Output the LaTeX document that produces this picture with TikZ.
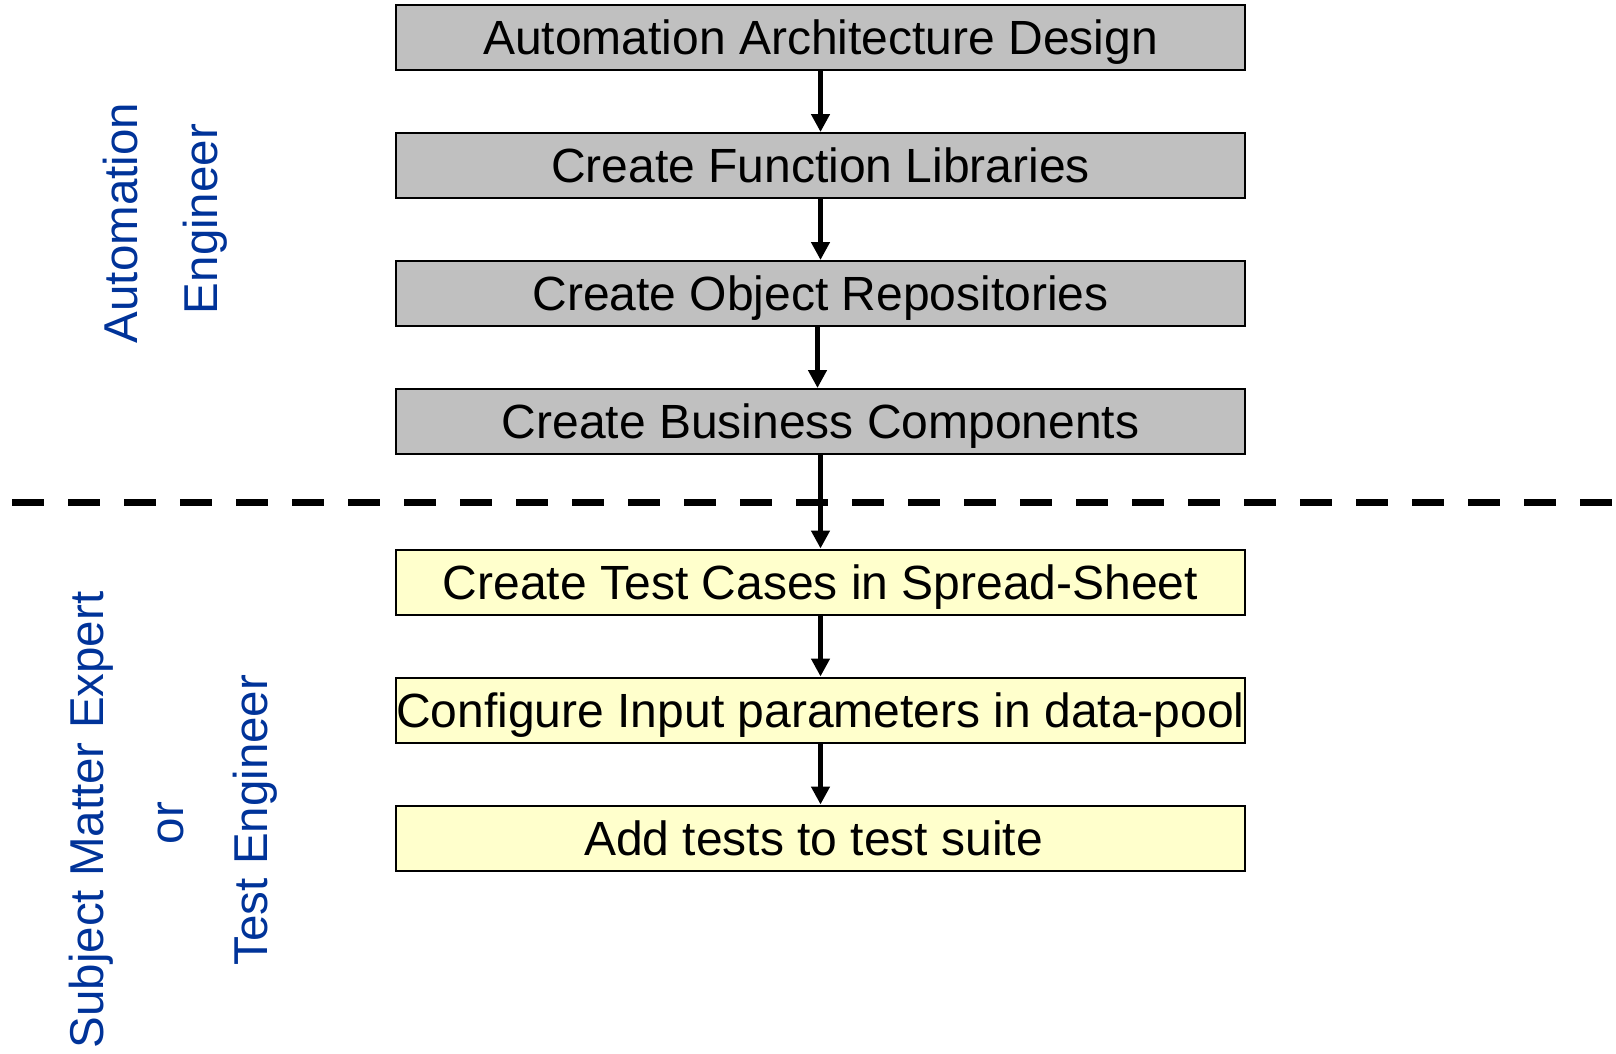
\documentclass[tikz,border=0pt]{standalone}
\usepackage{fontspec}
\setmainfont{Liberation Sans}
\usetikzlibrary{arrows.meta}
\definecolor{boxgray}{RGB}{192,192,192}
\definecolor{boxyellow}{RGB}{255,255,204}
\definecolor{roleblue}{RGB}{0,51,153}
\begin{document}
\begin{tikzpicture}[x=1pt,y=-1pt,
  stepbox/.style={draw=black, line width=2pt, minimum width=849pt, minimum height=65pt,
    inner sep=0pt, text height=34pt, text depth=0pt,
    font=\fontsize{48}{57}\selectfont},
  graybox/.style={stepbox, fill=boxgray},
  yellowbox/.style={stepbox, fill=boxyellow},
  flow/.style={line width=4.5pt, -{Triangle[length=18pt,width=18pt]}},
  role/.style={rotate=90, anchor=base, inner sep=0pt, text=roleblue,
    font=\fontsize{47.5}{57}\selectfont}]
\useasboundingbox (0,0) rectangle (1616,1053);

\node[graybox] (b1) at (820.5,37.5) {Automation Architecture Design};
\node[graybox] (b2) at (820.5,165.5) {Create Function Libraries};
\node[graybox] (b3) at (820.5,293.5) {Create Object Repositories};
\node[graybox] (b4) at (820.5,421.5) {Create Business Components};
\node[yellowbox] (b5) at (820.5,582) {Create Test Cases in Spread-Sheet};
\node[yellowbox] (b6) at (820.5,710) {Configure Input parameters in data-pool};
\node[yellowbox] (b7) at (820.5,838) {Add tests to test suite\kern14pt};

\coordinate (dl) at (12,502);
\coordinate (dr) at (1613,502);
\draw[line width=7pt, dash pattern=on 32pt off 24pt] (dl) -- (dr);

\draw[flow] (b1.south) -- (b2.north);
\draw[flow] (b2.south) -- (b3.north);
\draw[flow] ([xshift=-3pt]b3.south) -- ([xshift=-3pt]b4.north);
\draw[flow] (b4.south) -- (b5.north);
\draw[flow] (b5.south) -- (b6.north);
\draw[flow] (b6.south) -- (b7.north);

\node[role] (r1) at (137,223) {Automation};
\node[role] (r2) at (217,219) {Engineer};
\node[role] (r3) at (103,820) {Subject Matter Expert};
\node[role] (r4) at (183,823) {or};
\node[role] (r5) at (267,820) {Test Engineer};
\end{tikzpicture}
\end{document}
